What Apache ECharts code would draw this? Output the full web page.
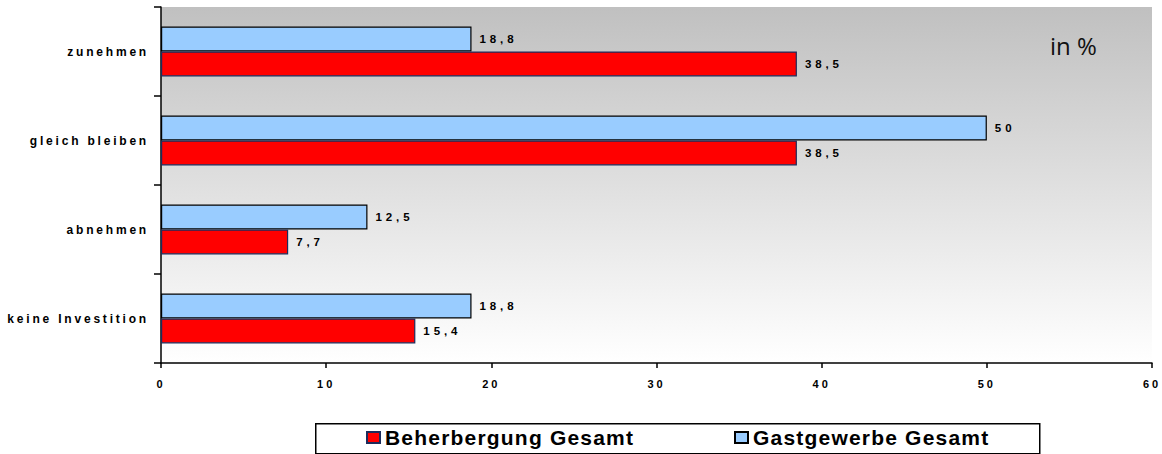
<!DOCTYPE html>
<html>
<head>
<meta charset="utf-8">
<script src="https://cdn.jsdelivr.net/npm/echarts@6/dist/echarts.min.js"></script>
<style>
html, body { margin: 0; padding: 0; background: #fff; }
#chart { width: 1162px; height: 454px; }
/* gesperrte Schrift wie im Excel-Original */
#chart text[style*="12px"] { letter-spacing: 2.8px; }
#chart text[style*="11px"] { letter-spacing: 3px; }
#chart text[style*="11.5px"] { letter-spacing: 3.9px; }
#chart text[style*="21px"] { letter-spacing: 1.2px; }
</style>
</head>
<body>
<div id="chart"></div>
<script>
// Kategorien (von unten nach oben)
var categories = ['keine Investition', 'abnehmen', 'gleich bleiben', 'zunehmen']
var beherbergung = [15.4, 7.7, 38.5, 38.5]
var gastgewerbe = [18.8, 12.5, 50, 18.8]
var xTicks = [0, 10, 20, 30, 40, 50, 60]

var font = 'Liberation Sans'

function komma (p) {
  return String(p.value).replace('.', ',')
}

var valueLabel = {
  show: true,
  position: 'right',
  distance: 8,
  color: '#000',
  fontFamily: font,
  fontWeight: 'bold',
  fontSize: 11.5,
  formatter: komma
}

var legendText = { fontFamily: font, fontWeight: 'bold', fontSize: 21, color: '#000' }

var chart = echarts.init(document.getElementById('chart'), null, { renderer: 'svg' })
var option = {
  backgroundColor: '#fff',
  animation: false,
  textStyle: { fontFamily: font },
  graphic: [{
    type: 'rect',
    left: 315,
    top: 423,
    z: -1,
    shape: { width: 724, height: 30 },
    style: { fill: '#fff', stroke: '#000', lineWidth: 1.5 }
  }, {
    type: 'text',
    left: 1050,
    top: 33,
    style: { text: 'in %', fontSize: 24, fontFamily: 'Open Sans', fill: '#111' }
  }],
  legend: [{
    left: 366,
    top: 427,
    padding: 0,
    itemWidth: 13,
    itemHeight: 11,
    icon: 'rect',
    textStyle: legendText,
    data: ['Beherbergung Gesamt']
  }, {
    left: 734,
    top: 427,
    padding: 0,
    itemWidth: 13,
    itemHeight: 11,
    icon: 'rect',
    textStyle: legendText,
    data: ['Gastgewerbe Gesamt']
  }],
  grid: {
    left: 161,
    right: 10,
    top: 7,
    bottom: 91,
    show: true,
    borderWidth: 0,
    backgroundColor: new echarts.graphic.LinearGradient(0, 0, 0, 1, [
      { offset: 0, color: '#c0c0c0' },
      { offset: 1, color: '#ffffff' }
    ])
  },
  xAxis: {
    type: 'value',
    min: xTicks[0],
    max: xTicks[xTicks.length - 1],
    interval: 10,
    splitLine: { show: false },
    axisLine: { show: true, lineStyle: { color: '#000', width: 1.5 } },
    axisTick: { show: true, length: 5, lineStyle: { color: '#000', width: 1.5 } },
    axisLabel: { color: '#000', fontWeight: 'bold', fontSize: 11, margin: 15 }
  },
  yAxis: {
    type: 'category',
    data: categories,
    axisLine: { show: true, lineStyle: { color: '#000', width: 1.5 } },
    axisTick: { show: true, length: 7, lineStyle: { color: '#000', width: 1.5 } },
    axisLabel: { color: '#000', fontWeight: 'bold', fontSize: 12, margin: 12 }
  },
  series: [{
    type: 'bar',
    name: 'Gastgewerbe Gesamt',
    data: gastgewerbe,
    barGap: 0,
    barCategoryGap: '44%',
    itemStyle: { color: '#99ccff', borderColor: '#000', borderWidth: 1.2 },
    label: valueLabel
  }, {
    type: 'bar',
    name: 'Beherbergung Gesamt',
    data: beherbergung,
    barGap: 0,
    barCategoryGap: '44%',
    itemStyle: { color: '#ff0000', borderColor: '#1c2c5c', borderWidth: 1.2 },
    label: valueLabel
  }]
}
chart.setOption(option)
</script>
</body>
</html>
